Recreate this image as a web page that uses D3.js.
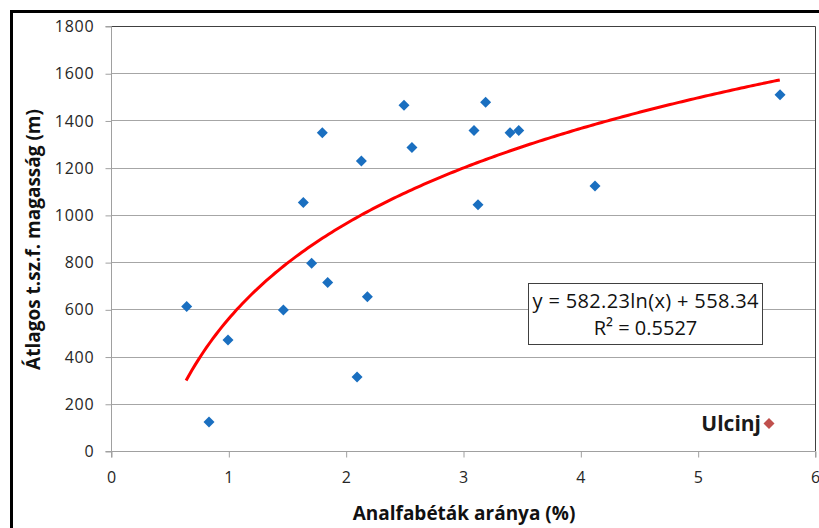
<!DOCTYPE html>
<html><head><meta charset="utf-8">
<script src="https://cdn.jsdelivr.net/npm/d3@7"></script>
<style>body{margin:0;background:#fff}svg{display:block}</style>
</head><body>
<script>
// Data
const xVals = [0.645, 0.835, 0.997, 1.469, 1.639, 1.710, 1.801, 1.847, 2.097, 2.134, 2.185, 2.497, 2.565, 3.094, 3.128, 3.193, 3.401, 3.475, 4.125, 5.702];
const yVals = [612, 123, 470, 597, 1053, 795, 1348, 714, 313, 1228, 653, 1464, 1285, 1357, 1043, 1477, 1348, 1357, 1122, 1509];
const outlierName = ["Ulcinj"];
const outlierX = [5.608];
const outlierY = [117];
const trendCoef = [582.23, 558.34]; // y = a ln(x) + b
const trendRange = [0.64, 5.70];
const xTicks = [0, 1, 2, 3, 4, 5, 6];
const yTicks = [0, 200, 400, 600, 800, 1000, 1200, 1400, 1600, 1800];
const eqLines = ["y = 582.23ln(x) + 558.34", "R² = 0.5527"];
const xTitle = "Analfabéták aránya (%)";
const yTitle = "Átlagos t.sz.f. magasság (m)";

const W = 819, H = 528;
const L = 111, R = 815, T = 26, B = 451;
const svg = d3.select("body").append("svg").attr("width", W).attr("height", H);
const font = "'Open Sans', sans-serif";

const x = d3.scaleLinear().domain([0, 6]).range([L, R]);
const y = d3.scaleLinear().domain([0, 1800]).range([B, T]);

// outer frame
svg.append("rect").attr("x", 11.5).attr("y", 11.5).attr("width", 900).attr("height", 700)
  .attr("fill", "none").attr("stroke", "#000").attr("stroke-width", 3);

// gridlines
svg.append("g").selectAll("line").data(yTicks.filter(d => d > 0)).join("line")
  .attr("x1", L).attr("x2", R).attr("y1", d => Math.round(y(d)) + 0.5).attr("y2", d => Math.round(y(d)) + 0.5)
  .attr("stroke", "#a6a6a6").attr("stroke-width", 1);

// plot border (top/right)
svg.append("path").attr("d", `M${L},${T + 0.5}H${R + 0.5}V${B}`).attr("fill", "none").attr("stroke", "#404040").attr("stroke-width", 1);

// axes
const yAxis = d3.axisLeft(y).tickValues(yTicks).tickSize(6).tickPadding(11).tickFormat(d3.format("d"));
const gy = svg.append("g").attr("transform", `translate(${L + 0.5},0.5)`).call(yAxis);
const xAxis = d3.axisBottom(x).tickValues(xTicks).tickSize(6).tickPadding(14).tickFormat(d3.format("d"));
const gx = svg.append("g").attr("transform", `translate(0.5,${B + 0.5})`).call(xAxis);
[gx, gy].forEach(g => {
  g.select(".domain").attr("stroke", "#a0a0a0");
  g.selectAll(".tick line").attr("stroke", "#a0a0a0");
  g.selectAll(".tick text").attr("font-family", font).attr("font-size", 16).attr("letter-spacing", "0.8px").attr("fill", "#262626");
});
gy.select(".domain").attr("d", `M-6,${y(0)}H0V${y(1800)}H-6`);
gx.select(".domain").attr("d", `M${L},6V0H${R}V6`);

// trend line
const tx = d3.range(0, 201).map(i => trendRange[0] + (trendRange[1] - trendRange[0]) * i / 200);
const line = d3.line().x(d => x(d)).y(d => y(trendCoef[0] * Math.log(d) + trendCoef[1]));
svg.append("path").datum(tx).attr("d", line).attr("fill", "none").attr("stroke", "#ff0000").attr("stroke-width", 3);

// points
const diamond = r => `M0,${-r}L${r},0L0,${r}L${-r},0Z`;
svg.append("g").selectAll("path").data(xVals.map((v, i) => [v, yVals[i]])).join("path")
  .attr("d", diamond(5.5)).attr("transform", d => `translate(${x(d[0])},${y(d[1])})`)
  .attr("fill", "#1a6fc0");
svg.append("g").selectAll("path").data(outlierX.map((v, i) => [v, outlierY[i]])).join("path")
  .attr("d", diamond(5.5)).attr("transform", d => `translate(${x(d[0])},${y(d[1])})`)
  .attr("fill", "#c0504d");
svg.append("g").selectAll("text").data(outlierX.map((v, i) => [v, outlierY[i], outlierName[i]])).join("text")
  .attr("x", d => x(d[0]) - 8).attr("y", d => y(d[1]) + 8)
  .attr("text-anchor", "end").attr("font-family", font).attr("font-weight", "bold").attr("font-size", 21)
  .attr("fill", "#1a1a1a").text(d => d[2]);

// equation box
svg.append("rect").attr("x", 528.5).attr("y", 283.5).attr("width", 234).attr("height", 61)
  .attr("fill", "#fff").attr("stroke", "#404040").attr("stroke-width", 1);
svg.append("g").selectAll("text").data(eqLines).join("text")
  .attr("x", 645.5).attr("y", (d, i) => 308 + i * 27)
  .attr("text-anchor", "middle").attr("font-family", font).attr("font-size", 20).attr("fill", "#111")
  .attr("textLength", (d, i) => i === 0 ? 226 : null)
  .text(d => d);

// axis titles
svg.append("text").attr("x", (L + R) / 2 + 1).attr("y", 520).attr("text-anchor", "middle")
  .attr("font-family", font).attr("font-weight", "bold").attr("font-size", 19).attr("fill", "#111").text(xTitle);
svg.append("text").attr("transform", `translate(40,${(T + B) / 2 + 1}) rotate(-90)`).attr("text-anchor", "middle")
  .attr("font-family", font).attr("font-weight", "bold").attr("font-size", 19).attr("fill", "#111").text(yTitle);
</script>
</body></html>
